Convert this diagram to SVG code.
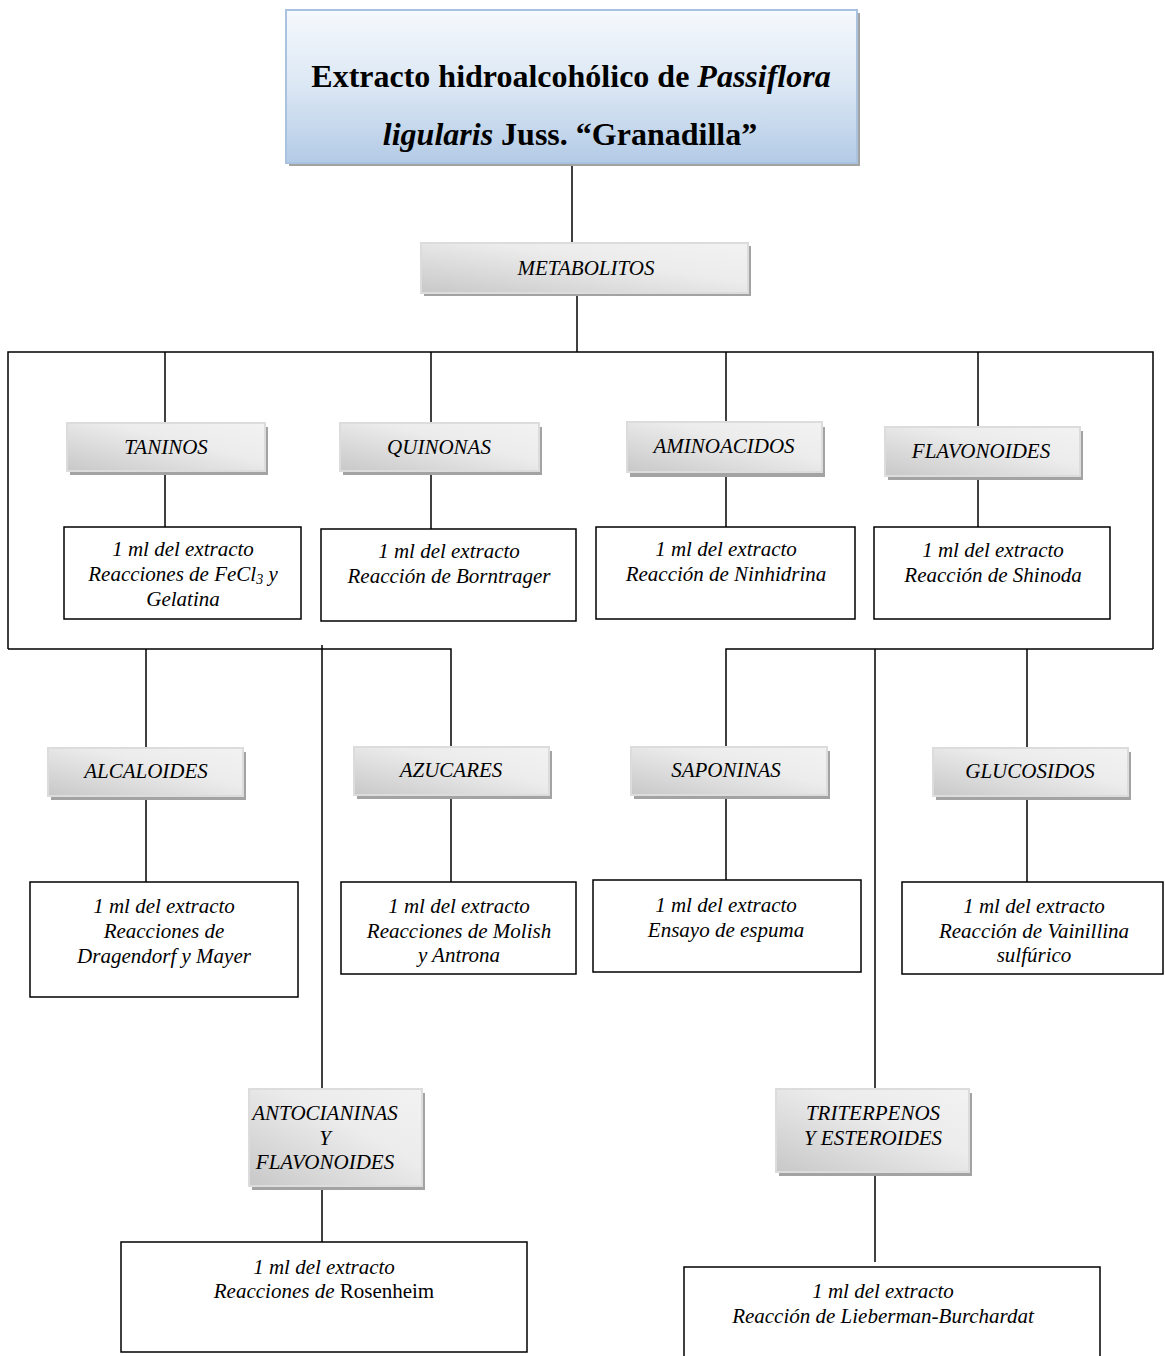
<svg xmlns="http://www.w3.org/2000/svg" width="1165" height="1356" viewBox="0 0 1165 1356">
<defs>
<linearGradient id="gBlue" x1="0" y1="0" x2="0" y2="1">
<stop offset="0" stop-color="#f6f9fd"/>
<stop offset="0.5" stop-color="#dbe7f4"/>
<stop offset="1" stop-color="#b3cbe6"/>
</linearGradient>
<linearGradient id="gGray" x1="0" y1="1" x2="1" y2="0">
<stop offset="0" stop-color="#c8c8c8"/>
<stop offset="0.6" stop-color="#ececec"/>
<stop offset="1" stop-color="#f2f2f2"/>
</linearGradient>
<style>
.sh{fill:#a3a3a3}
.lbl{fill:url(#gGray);stroke:#dcdcdc;stroke-width:2}
.res{fill:#fff;stroke:#000;stroke-width:1.5}
.t{font-family:"Liberation Serif","Times New Roman",serif;font-style:italic;font-size:21px;fill:#000;text-anchor:middle}
.title{font-family:"Liberation Serif","Times New Roman",serif;font-weight:bold;font-size:32px;fill:#000;text-anchor:middle}
.c{stroke:#000;stroke-width:1.5;fill:none}
</style>
</defs>

<g id="connectors">
<line class="c" x1="572" y1="163" x2="572" y2="243"/>
<line class="c" x1="577" y1="295" x2="577" y2="352"/>
<polyline class="c" points="8,649 8,352 1153,352 1153,649"/>
<line class="c" x1="165" y1="352" x2="165" y2="423"/>
<line class="c" x1="165" y1="471" x2="165" y2="527"/>
<line class="c" x1="431" y1="352" x2="431" y2="423"/>
<line class="c" x1="431" y1="471" x2="431" y2="529"/>
<line class="c" x1="726" y1="352" x2="726" y2="423"/>
<line class="c" x1="726" y1="472" x2="726" y2="527"/>
<line class="c" x1="978" y1="352" x2="978" y2="428"/>
<line class="c" x1="978" y1="476" x2="978" y2="527"/>
<polyline class="c" points="8,649 451,649 451,751"/>
<line class="c" x1="146" y1="649" x2="146" y2="752"/>
<line class="c" x1="146" y1="797" x2="146" y2="882"/>
<line class="c" x1="451" y1="795" x2="451" y2="882"/>
<line class="c" x1="322" y1="645" x2="322" y2="1090"/>
<line class="c" x1="322" y1="1186" x2="322" y2="1242"/>
<polyline class="c" points="1153,649 726,649 726,751"/>
<line class="c" x1="726" y1="795" x2="726" y2="880"/>
<line class="c" x1="875" y1="649" x2="875" y2="1090"/>
<line class="c" x1="875" y1="1172" x2="875" y2="1262"/>
<line class="c" x1="1027" y1="649" x2="1027" y2="749"/>
<line class="c" x1="1027" y1="796" x2="1027" y2="882"/>
</g>

<g id="title">
<rect x="289" y="13" width="571" height="153" class="sh"/>
<rect x="286" y="10" width="571" height="153" fill="url(#gBlue)" stroke="#a9c2e0" stroke-width="2"/>
<text class="title" x="571" y="87">Extracto hidroalcohólico de <tspan font-style="italic">Passiflora</tspan></text>
<text class="title" x="570" y="145"><tspan font-style="italic">ligularis</tspan> Juss. “Granadilla”</text>
</g>

<g id="metabolitos">
<rect x="424" y="246" width="327" height="50" class="sh"/>
<rect x="421" y="243" width="327" height="50" class="lbl"/>
<text class="t" x="586" y="275">METABOLITOS</text>
</g>

<g id="taninos">
<rect x="70" y="427" width="198" height="48" class="sh"/>
<rect x="67" y="423" width="198" height="48" class="lbl"/>
<text class="t" x="166" y="454">TANINOS</text>
</g>
<g id="taninos-test">
<rect x="64" y="527" width="237" height="92" class="res"/>
<text class="t" x="183" y="556">1 ml del extracto</text>
<text class="t" x="183" y="581">Reacciones de FeCl<tspan font-size="14" dy="3">3</tspan><tspan dy="-3">  y</tspan></text>
<text class="t" x="183" y="606">Gelatina</text>
</g>

<g id="quinonas">
<rect x="343" y="427" width="199" height="48" class="sh"/>
<rect x="340" y="423" width="199" height="48" class="lbl"/>
<text class="t" x="439" y="454">QUINONAS</text>
</g>
<g id="quinonas-test">
<rect x="321" y="529" width="255" height="92" class="res"/>
<text class="t" x="449" y="558">1 ml del extracto</text>
<text class="t" x="449" y="583">Reacción de Borntrager</text>
</g>

<g id="aminoacidos">
<rect x="630" y="427" width="195" height="50" class="sh"/>
<rect x="627" y="422" width="195" height="50" class="lbl"/>
<text class="t" x="724" y="453">AMINOACIDOS</text>
</g>
<g id="aminoacidos-test">
<rect x="596" y="527" width="259" height="92" class="res"/>
<text class="t" x="726" y="556">1 ml del extracto</text>
<text class="t" x="726" y="581">Reacción de Ninhidrina</text>
</g>

<g id="flavonoides">
<rect x="888" y="431" width="195" height="49" class="sh"/>
<rect x="885" y="427" width="195" height="49" class="lbl"/>
<text class="t" x="981" y="458">FLAVONOIDES</text>
</g>
<g id="flavonoides-test">
<rect x="874" y="527" width="236" height="92" class="res"/>
<text class="t" x="993" y="557">1 ml del extracto</text>
<text class="t" x="993" y="582">Reacción de Shinoda</text>
</g>

<g id="alcaloides">
<rect x="51" y="752" width="195" height="48" class="sh"/>
<rect x="48" y="748" width="195" height="48" class="lbl"/>
<text class="t" x="146" y="778">ALCALOIDES</text>
</g>
<g id="alcaloides-test">
<rect x="30" y="882" width="268" height="115" class="res"/>
<text class="t" x="164" y="913">1 ml del extracto</text>
<text class="t" x="164" y="938">Reacciones de</text>
<text class="t" x="164" y="963">Dragendorf y Mayer</text>
</g>

<g id="azucares">
<rect x="357" y="751" width="195" height="48" class="sh"/>
<rect x="354" y="747" width="195" height="48" class="lbl"/>
<text class="t" x="451" y="777">AZUCARES</text>
</g>
<g id="azucares-test">
<rect x="341" y="882" width="235" height="92" class="res"/>
<text class="t" x="459" y="913">1 ml del extracto</text>
<text class="t" x="459" y="938">Reacciones de Molish</text>
<text class="t" x="459" y="962">y Antrona</text>
</g>

<g id="saponinas">
<rect x="634" y="751" width="196" height="48" class="sh"/>
<rect x="631" y="747" width="196" height="48" class="lbl"/>
<text class="t" x="726" y="777">SAPONINAS</text>
</g>
<g id="saponinas-test">
<rect x="593" y="880" width="268" height="92" class="res"/>
<text class="t" x="726" y="912">1 ml del extracto</text>
<text class="t" x="726" y="937">Ensayo de espuma</text>
</g>

<g id="glucosidos">
<rect x="936" y="752" width="195" height="48" class="sh"/>
<rect x="933" y="748" width="195" height="48" class="lbl"/>
<text class="t" x="1030" y="778">GLUCOSIDOS</text>
</g>
<g id="glucosidos-test">
<rect x="902" y="882" width="261" height="92" class="res"/>
<text class="t" x="1034" y="913">1 ml del extracto</text>
<text class="t" x="1034" y="938">Reacción de Vainillina</text>
<text class="t" x="1034" y="962">sulfúrico</text>
</g>

<g id="antocianinas">
<rect x="252" y="1093" width="173" height="97" class="sh"/>
<rect x="249" y="1089" width="173" height="97" class="lbl"/>
<text class="t" x="325" y="1120">ANTOCIANINAS</text>
<text class="t" x="325" y="1145">Y</text>
<text class="t" x="325" y="1169">FLAVONOIDES</text>
</g>
<g id="antocianinas-test">
<rect x="121" y="1242" width="406" height="110" class="res"/>
<text class="t" x="324" y="1274">1 ml del extracto</text>
<text class="t" x="324" y="1298">Reacciones de <tspan font-style="normal">Rosenheim</tspan></text>
</g>

<g id="triterpenos">
<rect x="779" y="1093" width="193" height="83" class="sh"/>
<rect x="776" y="1089" width="193" height="83" class="lbl"/>
<text class="t" x="873" y="1120">TRITERPENOS</text>
<text class="t" x="873" y="1145">Y ESTEROIDES</text>
</g>
<g id="triterpenos-test">
<rect x="684" y="1267" width="416" height="100" class="res"/>
<text class="t" x="883" y="1298">1 ml del extracto</text>
<text class="t" x="883" y="1323">Reacción de Lieberman-Burchardat</text>
</g>
</svg>
